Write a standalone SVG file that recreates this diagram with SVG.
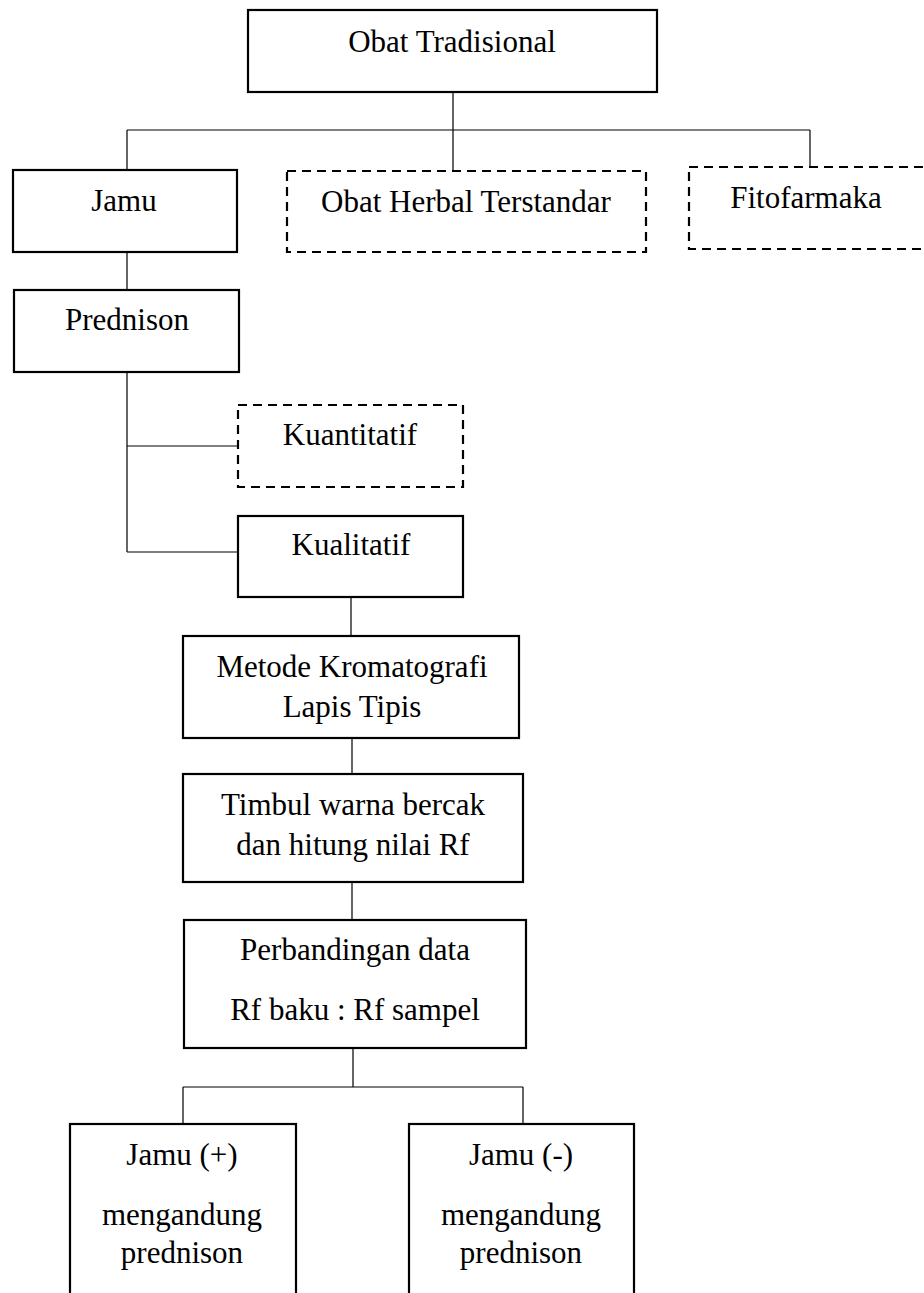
<svg xmlns="http://www.w3.org/2000/svg" width="924" height="1293" viewBox="0 0 924 1293">
<style>
.box{fill:#fff;stroke:#000;stroke-width:2.2}
.dash{fill:#fff;stroke:#000;stroke-width:2.2;stroke-dasharray:9 6}
.ln{fill:none;stroke:#000;stroke-width:1.2}
text{font-family:"Liberation Serif","Times New Roman",serif;font-size:31px;fill:#000;text-anchor:middle}
</style>
<rect width="924" height="1293" fill="#fff"/>
<g id="connectors">
<path class="ln" d="M453 92V170M127 130H810M127 130V170M810 130V167"/>
<path class="ln" d="M127 252V290M127 372V552M127 446H239M127 552H239"/>
<path class="ln" d="M351 597V636M352 738V774M352 882V920M353 1048V1087M183 1087H523M183 1087V1124M523 1087V1124"/>
</g>
<g id="obat-tradisional"><rect class="box" x="248" y="10" width="409" height="82"/><text x="452" y="52">Obat Tradisional</text></g>
<g id="jamu"><rect class="box" x="13" y="170" width="224" height="82"/><text x="124" y="211">Jamu</text></g>
<g id="oht"><rect class="dash" x="287" y="171" width="359" height="81"/><text x="466" y="212">Obat Herbal Terstandar</text></g>
<g id="fitofarmaka"><rect class="dash" x="689" y="167" width="240" height="82"/><text x="806" y="208">Fitofarmaka</text></g>
<g id="prednison"><rect class="box" x="14" y="290" width="225" height="82"/><text x="127" y="330">Prednison</text></g>
<g id="kuantitatif"><rect class="dash" x="238" y="405" width="225" height="82"/><text x="350" y="445">Kuantitatif</text></g>
<g id="kualitatif"><rect class="box" x="238" y="516" width="225" height="81"/><text x="351" y="555">Kualitatif</text></g>
<g id="klt"><rect class="box" x="183" y="636" width="336" height="102"/><text x="352" y="677">Metode Kromatografi</text><text x="352" y="717">Lapis Tipis</text></g>
<g id="timbul"><rect class="box" x="183" y="774" width="340" height="108"/><text x="353" y="815">Timbul warna bercak</text><text x="353" y="855">dan hitung nilai Rf</text></g>
<g id="perbandingan"><rect class="box" x="184" y="920" width="342" height="128"/><text x="355" y="960">Perbandingan data</text><text x="355" y="1020">Rf baku : Rf sampel</text></g>
<g id="jamu-plus"><rect class="box" x="70" y="1124" width="226" height="190"/><text x="182" y="1165">Jamu (+)</text><text x="182" y="1225">mengandung</text><text x="182" y="1263">prednison</text></g>
<g id="jamu-minus"><rect class="box" x="409" y="1124" width="225" height="190"/><text x="521" y="1165">Jamu (-)</text><text x="521" y="1225">mengandung</text><text x="521" y="1263">prednison</text></g>
</svg>
